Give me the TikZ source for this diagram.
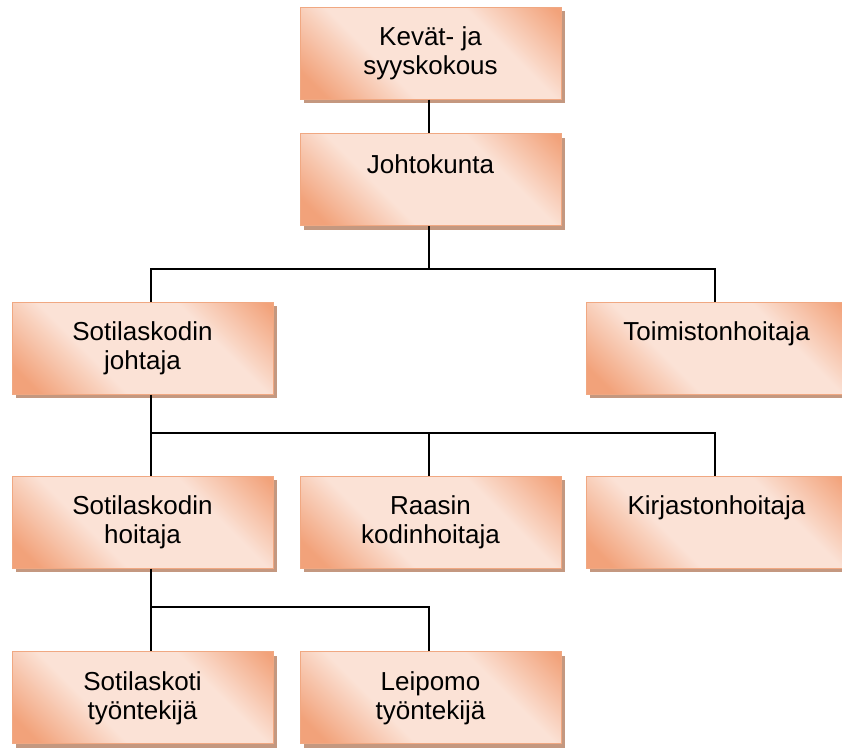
\documentclass[tikz,border=0pt]{standalone}
\usepackage{fontspec}
\setmainfont{Liberation Sans}
\usetikzlibrary{shadows,calc}
\definecolor{sdark}{RGB}{242,162,122}
\definecolor{slight}{RGB}{251,226,214}
\definecolor{sedge}{RGB}{240,168,130}
\definecolor{shadowc}{RGB}{196,152,128}
\pgfdeclarehorizontalshading{boxsh}{100bp}{color(0bp)=(sdark); color(20bp)=(sdark); color(38bp)=(slight); color(66bp)=(slight); color(84bp)=(sdark); color(100bp)=(sdark)}
\tikzset{
  orgbox/.style={rectangle, minimum width=261pt, minimum height=92pt, inner sep=0pt,
    draw=sedge, line width=1pt, shading=boxsh, shading angle=45,
    general shadow={fill=shadowc, shadow xshift=4pt, shadow yshift=-4pt}},
  boxtext/.style={anchor=north, inner sep=0pt, align=center, font=\fontsize{26}{29}\selectfont},
  conn/.style={draw=black, line width=1.7pt}
}
\begin{document}
\begin{tikzpicture}[x=1pt,y=-1pt]
\clip (0,0) rectangle (842,747);
\useasboundingbox (0,0) rectangle (842,747);
% stem coordinates
\coordinate (sL) at (151,0);
\coordinate (sM) at (429,0);
\coordinate (sR) at (715,0);
\coordinate (h1) at (0,269);
\coordinate (h2) at (0,433);
\coordinate (h3) at (0,607);
% boxes
\node[orgbox] (b1) at (430.5,53) {};
\node[orgbox] (b2) at (430.5,179.5) {};
\node[orgbox] (b3) at (142.5,348) {};
\node[orgbox] (b4) at (716.5,348) {};
\node[orgbox] (b5) at (142.5,522) {};
\node[orgbox] (b6) at (430.5,522) {};
\node[orgbox] (b7) at (716.5,522) {};
\node[orgbox] (b8) at (142.5,697.5) {};
\node[orgbox] (b9) at (430.5,697.5) {};
% texts
\node[boxtext] (t1) at ($(b1.north)+(0,20)$) {Kevät- ja\\syyskokous};
\node[boxtext] (t2) at ($(b2.north)+(0,21)$) {Johtokunta};
\node[boxtext] (t3) at ($(b3.north)+(0,20)$) {Sotilaskodin\\johtaja};
\node[boxtext] (t4) at ($(b4.north)+(0,20)$) {Toimistonhoitaja};
\node[boxtext] (t5) at ($(b5.north)+(0,20)$) {Sotilaskodin\\hoitaja};
\node[boxtext] (t6) at ($(b6.north)+(0,20)$) {Raasin\\kodinhoitaja};
\node[boxtext] (t7) at ($(b7.north)+(0,20)$) {Kirjastonhoitaja};
\node[boxtext] (t8) at ($(b8.north)+(0,20)$) {Sotilaskoti\\työntekijä};
\node[boxtext] (t9) at ($(b9.north)+(0,20)$) {Leipomo\\työntekijä};
% connectors
\draw[conn] (b1.south -| sM) -- (b2.north -| sM);
\draw[conn] (b2.south -| sM) -- (sM |- h1);
\draw[conn] (b3.north -| sL) -- (sL |- h1) -- (sR |- h1) -- (b4.north -| sR);
\draw[conn] (b3.south -| sL) -- (sL |- h2);
\draw[conn] (b5.north -| sL) -- (sL |- h2) -- (sR |- h2) -- (b7.north -| sR);
\draw[conn] (sM |- h2) -- (b6.north -| sM);
\draw[conn] (b5.south -| sL) -- (b8.north -| sL);
\draw[conn] (sL |- h3) -- (sM |- h3) -- (b9.north -| sM);
\end{tikzpicture}
\end{document}
